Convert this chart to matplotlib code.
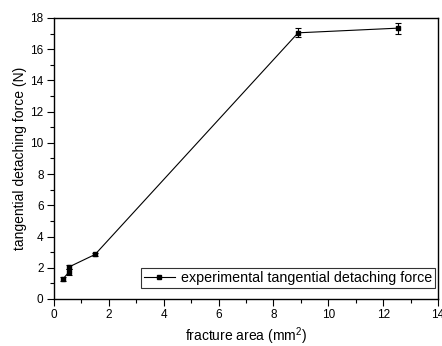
import matplotlib
matplotlib.use("Agg")
import matplotlib.pyplot as plt
from matplotlib.ticker import MultipleLocator
from matplotlib.lines import Line2D

plt.rcParams['font.family'] = ['Liberation Sans', 'DejaVu Sans']
plt.rcParams['mathtext.fontset'] = 'custom'
plt.rcParams['mathtext.rm'] = 'Liberation Sans'

area = [0.33, 0.55, 0.55, 1.5, 8.9, 12.55]
force = [1.28, 1.73, 2.05, 2.85, 17.05, 17.35]
err = [0.12, 0.18, 0.12, 0.12, 0.28, 0.35]

fig = plt.figure(figsize=(4.42, 3.46), dpi=100)
ax = fig.add_axes([0.122, 0.136, 0.869, 0.812])
ax.errorbar(area, force, yerr=err, color='black', lw=0.8, marker='s', ms=3,
            capsize=2.5, elinewidth=0.8, capthick=0.8)
ax.set_xlim(0, 14)
ax.set_ylim(0, 18)
ax.xaxis.set_major_locator(MultipleLocator(2))
ax.xaxis.set_minor_locator(MultipleLocator(1))
ax.yaxis.set_major_locator(MultipleLocator(2))
ax.yaxis.set_minor_locator(MultipleLocator(1))
ax.tick_params(which='major', direction='out', length=5, width=0.8, labelsize=8.5, pad=2.5)
ax.tick_params(which='minor', direction='out', length=3, width=0.8)
for s in ax.spines.values():
    s.set_linewidth(1.0)
ax.set_xlabel('fracture area (mm$^\\mathregular{2}$)', fontsize=10, labelpad=3)
ax.set_ylabel('tangential detaching force (N)', fontsize=10, labelpad=2)
handle = Line2D([], [], color='black', lw=0.8, marker='s', ms=2.5)
leg = ax.legend([handle], ['experimental tangential detaching force'],
                loc='lower right', fontsize=10.3, frameon=True, fancybox=False,
                edgecolor='black', handlelength=2.2, handletextpad=0.4,
                borderpad=0.2, borderaxespad=0, bbox_to_anchor=(0.992, 0.04))
leg.get_frame().set_linewidth(0.8)
fig.savefig('out.png', dpi=100)
